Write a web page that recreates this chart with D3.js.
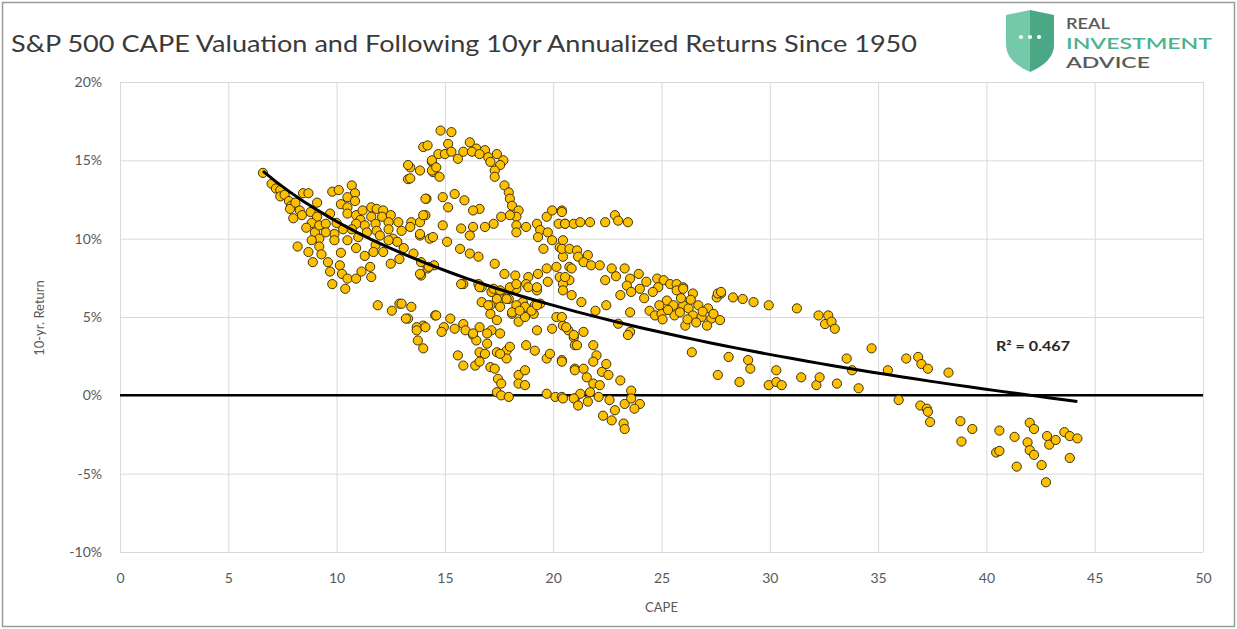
<!DOCTYPE html>
<html>
<head>
<meta charset="utf-8">
<script src="https://cdn.jsdelivr.net/npm/d3@7"></script>
<style>
  body { margin: 0; background: #fff; }
  svg text { font-family: Lato, "Open Sans", sans-serif; }
</style>
</head>
<body>
<div id="chart"></div>
<script>
// CAPE vs following 10yr annualized return (%)
// grouped by CAPE range so it is easier to check against the picture
const lowCape = [
  [6.6,14.2],[7.0,13.5],[7.2,13.2],[7.4,13.1],[7.4,12.7],[7.6,12.8],[7.8,12.4],[7.9,12.1],[7.85,11.9],
  [8.1,12.3],[8.3,11.8],[8.45,12.9],[8.7,12.9],[8.4,11.5],[8.0,11.3],[8.8,11.7],[9.1,12.3],[9.1,11.4],
  [8.85,11.0],[8.6,10.7],[9.0,10.4],[9.2,10.85],[9.5,10.95],[9.7,11.6],[9.8,13.0],[10.1,13.1],[10.7,13.4],
  [10.85,12.9],[10.5,12.65],[10.85,12.4],[10.2,12.2],[10.5,12.0],[10.5,11.6],[10.9,11.5],[10.0,11.0],
  [10.3,10.6],[11.1,11.2],[11.2,11.8],[11.6,12.0],[11.85,11.9],[12.15,11.8],[11.6,11.4],[12.1,11.4],
  [12.5,11.5],[12.4,11.05],[11.8,10.95],[11.3,10.85],[10.9,10.95],[10.7,10.6],[11.85,10.5],[11.4,10.4],
  [11.0,10.1],[12.0,10.2],[12.6,10.0],[10.5,9.9],[9.9,10.3],[9.9,9.9],[9.5,10.4],[9.2,10.0],[8.85,9.9],
  [8.2,9.5],[8.7,9.15],[8.9,8.5],[9.2,9.5],[9.3,9.0],[9.6,8.5],[9.7,7.9],[10.15,8.3],[10.25,7.75],
  [10.2,9.1],[10.9,9.4],[11.8,9.6],[13.1,9.4],[10.5,7.45],[9.8,7.1],[10.4,6.8],[10.9,7.45],[11.15,7.9],
  [11.6,7.55],[11.55,8.2],[11.3,8.9],[11.7,9.15],[12.15,9.15],[12.5,8.4],[12.9,8.7],[12.8,9.8],
  [12.4,10.6],[12.4,9.9],[12.85,11.05],[13.0,10.5],[13.45,11.05],[13.85,11.05],[14.1,11.5],[13.4,10.75],
  [13.85,10.2],[14.3,10.0],[13.55,9.05],[13.9,8.5],[13.9,7.65],[14.2,8.1],[14.5,8.3],[14.15,12.55],
  [13.3,13.8],[13.4,14.55],[13.85,14.35],[14.4,14.9],[14.45,14.25],[11.9,5.75],[12.55,5.4],[12.9,5.85],
  [13.45,5.65],[13.3,4.9],[14.0,4.45],[13.7,4.35],[14.55,5.1]
];

const midCape = [
  [14.8,16.9],[15.3,16.8],[14.0,15.85],[14.2,15.95],[15.15,16.05],[16.15,16.15],[16.45,15.75],[16.85,15.65],
  [17.4,15.4],[17.7,15.0],[14.7,15.4],[14.4,15.0],[15.0,15.4],[15.6,15.1],[15.3,15.55],[15.85,15.55],
  [16.25,15.55],[16.6,15.4],[17.0,15.2],[17.1,14.9],[17.55,14.7],[17.3,14.35],[13.3,14.7],[13.4,13.85],
  [14.4,14.35],[14.75,13.95],[14.6,14.55],[17.3,13.95],[17.75,13.4],[17.95,12.95],[18.0,12.55],
  [18.1,12.1],[18.4,11.8],[18.3,11.4],[18.0,11.5],[17.6,11.4],[17.25,10.95],[16.85,10.75],[16.3,10.75],
  [16.15,10.2],[15.75,10.65],[18.3,10.85],[18.3,10.4],[18.75,10.75],[16.6,11.9],[16.3,11.8],[15.9,12.45],
  [15.45,12.85],[14.9,12.65],[15.15,12.0],[14.1,12.55],[14.9,10.85],[14.0,11.5],[13.85,10.3],[14.45,10.1],
  [15.1,9.8],[15.7,9.35],[16.15,9.05],[16.55,8.85],[17.3,8.4],[17.75,7.75],[18.25,7.65],[18.85,7.55],
  [19.3,7.75],[19.7,8.1],[19.25,10.95],[19.7,11.4],[19.95,11.8],[20.4,11.8],[19.4,10.55],[19.75,10.4],
  [20.25,10.95],[20.55,10.95],[19.3,10.1],[19.95,9.9],[20.3,9.45],[19.55,9.35],[20.45,8.85],[20.15,8.2],
  [20.75,8.2],[20.3,7.55],[20.75,7.35],[15.85,7.1],[16.7,6.9],[16.7,5.95],[17.25,6.6],[17.85,6.25],
  [18.3,6.8],[18.75,7.1],[19.25,6.7],[19.4,5.85],[18.6,5.95],[13.85,7.75],[14.25,8.2],
  [13.0,5.85],[13.2,4.9],[13.7,4.15],[14.1,4.35],[13.75,3.5],[14.0,3.0],[14.6,5.1],[14.95,4.35],
  [15.25,4.9],[14.85,4.05],[15.45,4.25],[15.85,4.55],[15.95,4.15],[16.3,3.85],[16.6,4.35],[16.45,3.5],
  [15.6,2.55],[15.85,1.9],[16.4,1.9],[16.6,2.75],[16.6,2.15],[16.95,3.3],[17.15,4.15],[17.55,3.95],
  [16.85,2.65],[17.4,2.75],[17.85,2.85],[17.85,2.35],[17.1,1.8],[17.3,1.7],[17.45,1.05],[17.6,0.75],
  [17.4,0.2],[17.6,0.0],[17.95,-0.1],[18.4,1.3],[18.7,1.6],[18.4,0.75],[18.7,0.65],[18.75,3.2],
  [19.15,2.85],[19.7,2.35],[20.4,2.25],[19.85,2.65],[19.7,0.1],[20.1,-0.1],[20.4,-0.1],[21.0,-0.2],
  [21.0,1.7],[17.55,6.15],[17.95,6.15],[17.1,5.75],[17.1,5.2],[17.4,4.8],[18.1,5.2],[18.3,5.75],
  [18.7,5.65],[18.4,4.7],[18.7,5.0],[19.15,5.75],[19.25,4.15],[19.1,5.2],[20.15,5.0],[19.95,4.25],
  [20.45,4.45],[20.7,4.15],[20.95,3.7],[21.0,3.2],[16.55,7.1],[17.15,6.6],[15.75,7.1],[16.6,6.9],
  [17.25,6.8],[17.55,6.7],[18.0,6.9],[18.3,7.1],[18.85,6.9],[19.25,6.9],[19.75,7.25],[20.45,7.1],
  [20.85,6.4],[17.0,5.75],[17.4,6.15],[17.55,5.65],[17.85,6.15],[18.1,5.3],[18.45,5.4],[19.0,5.4],
  [19.25,5.75],[16.3,3.95],[16.95,3.95],[18.0,3.1],[17.55,2.65]
];

const upperCape = [
  [20.4,11.7],[20.55,10.95],[20.95,10.95],[21.25,11.05],[21.7,11.05],[22.4,11.05],[22.85,11.5],[23.0,11.15],
  [23.45,11.05],[20.45,9.9],[20.4,9.35],[20.75,9.35],[21.1,9.25],[21.15,8.85],[21.6,8.95],[21.4,8.5],
  [21.75,8.3],[22.15,8.3],[22.7,8.1],[23.3,8.1],[23.55,7.45],[23.95,7.75],[24.3,7.25],[24.8,7.45],
  [25.1,7.35],[25.4,7.1],[25.7,7.1],[26.0,6.9],[26.45,6.5],[20.85,8.1],[20.55,7.55],[20.45,6.7],
  [21.3,5.95],[22.4,7.35],[22.9,7.6],[23.4,7.0],[23.6,6.6],[24.0,6.8],[24.85,6.9],[23.1,6.4],[24.6,6.6],
  [24.2,6.2],[21.95,5.4],[22.45,5.75],[23.55,5.3],[23.0,4.57],[23.55,4.05],[23.45,3.85],[24.45,5.4],
  [24.7,5.1],[25.0,5.2],[25.25,6.05],[25.55,5.75],[25.7,6.7],[26.0,6.8],[25.6,5.1],[26.0,5.75],
  [26.25,5.55],[26.1,4.45],[26.45,5.1],[26.7,5.75],[26.85,5.0],[27.15,5.55],[27.3,4.9],[27.1,4.45],
  [27.7,4.8],[27.55,6.25],[27.75,6.5],[28.3,6.25],[24.9,5.75],[25.3,5.45],[25.85,5.3],[26.2,4.85],
  [26.6,4.65],[26.9,5.35],[27.4,5.2],[25.05,4.85],[25.9,6.2],[26.35,6.1],[26.4,2.75],
  [20.4,5.0],[20.6,4.35],[20.95,3.85],[21.1,3.2],[21.4,4.05],[21.85,3.2],[22.0,2.55],[20.4,2.15],
  [21.0,1.6],[21.4,1.7],[21.85,2.15],[22.25,1.5],[22.55,1.3],[22.45,2.0],[23.1,0.95],[21.55,1.15],
  [21.85,0.75],[22.15,0.65],[21.7,0.2],[21.25,0.1],[20.95,-0.2],[20.45,-0.2],[21.15,-0.65],[21.6,-0.4],
  [22.1,-0.1],[22.6,-0.3],[22.85,-0.95],[22.3,-1.3],[22.7,-1.6],[23.3,-0.55],[23.6,0.3],[23.6,-0.2],
  [24.0,-0.55],[23.75,-0.85],[23.25,-1.8],[23.3,-2.15]
];

const highCape = [
  [27.6,6.5],[27.75,6.6],[28.75,6.15],[29.25,5.95],[29.95,5.75],[31.25,5.55],[32.25,5.1],[32.7,5.1],
  [32.55,4.55],[32.85,4.7],[33.0,4.25],[28.1,2.45],[29.0,2.25],[29.1,1.7],[27.6,1.3],[28.6,0.85],
  [29.95,0.65],[30.3,1.6],[30.3,0.85],[30.55,0.65],[31.45,1.15],[32.15,0.65],[32.3,1.15],[33.1,0.75],
  [33.55,2.35],[33.8,1.6],[34.1,0.45],[34.7,3.0],[35.45,1.6],[35.95,-0.3],[36.3,2.35],[36.85,2.45],
  [37.0,2.0],[37.3,1.7],[36.95,-0.65],[37.25,-0.85],[38.25,1.45],[37.3,-1.05],[37.4,-1.7],[38.8,-1.65],
  [39.35,-2.15],[38.85,-2.95],[40.6,-2.25],[41.3,-2.65],[40.45,-3.65],[40.6,-3.55],[41.4,-4.55],
  [42.0,-1.75],[42.2,-2.15],[41.9,-3.0],[42.0,-3.5],[42.2,-3.8],[42.55,-4.45],[42.75,-5.55],[42.8,-2.6],
  [42.9,-3.15],[43.2,-2.85],[43.6,-2.35],[43.85,-2.6],[44.2,-2.75],[43.85,-4.0]
];

const xTicks = [0, 5, 10, 15, 20, 25, 30, 35, 40, 45, 50];
const yTicks = [-10, -5, 0, 5, 10, 15, 20];
const titleText = "S&P 500 CAPE Valuation and Following 10yr Annualized Returns Since 1950";
// Excel logarithmic trendline as shown on the chart: y = slope*ln(x) + intercept
const trendSlope = -7.73;
const trendIntercept = 28.9;
const r2Label = "R\u00B2 = 0.467";

const allPoints = lowCape.concat(midCape, upperCape, highCape);

var W = 1237, H = 629;
var plot = {left: 120, right: 1203, top: 82, bottom: 552};

var svg = d3.select("#chart").append("svg")
    .attr("width", W)
    .attr("height", H);

svg.append("rect")
    .attr("x", 2.5).attr("y", 2.5)
    .attr("width", W - 5).attr("height", H - 5)
    .attr("fill", "#fff")
    .attr("stroke", "#9a9a9a")
    .attr("stroke-width", 1.5);

var x = d3.scaleLinear().domain([0, 50]).range([plot.left, plot.right]);
var y = d3.scaleLinear().domain([-10, 20]).range([plot.bottom, plot.top]);

// title
svg.append("text")
    .attr("x", 11).attr("y", 52)
    .attr("font-size", 24)
    .attr("fill", "#3a3a3a")
    .attr("textLength", 906)
    .attr("lengthAdjust", "spacingAndGlyphs")
    .text(titleText);

// logo
var logo = svg.append("g").attr("id", "logo");
logo.append("path")
    .attr("d", "M1030,10 L1006,15 L1006,46 Q1007,62 1030,72 Z")
    .attr("fill", "#74c9aa");
logo.append("path")
    .attr("d", "M1030,10 L1054,15 L1054,46 Q1053,62 1030,72 Z")
    .attr("fill", "#4aa886");
[1021, 1030, 1039].forEach(function(cx){
  logo.append("circle").attr("cx", cx).attr("cy", 37).attr("r", 2.1).attr("fill", "#fff");
});
var logoText = [
  {t: "REAL", y: 29, c: "#5a5a5a", w: 44},
  {t: "INVESTMENT", y: 48.5, c: "#4db28d", w: 146},
  {t: "ADVICE", y: 68, c: "#5a5a5a", w: 84}
];
logoText.forEach(function(d){
  logo.append("text")
      .attr("x", 1066).attr("y", d.y)
      .attr("font-size", 16)
      .attr("font-weight", 600)
      .attr("fill", d.c)
      .attr("textLength", d.w)
      .attr("lengthAdjust", "spacingAndGlyphs")
      .text(d.t);
});

// axes + gridlines
var yAxis = d3.axisLeft(y)
    .tickValues(yTicks)
    .tickSize(-(plot.right - plot.left))
    .tickPadding(18)
    .tickFormat(d => d + "%");
var gy = svg.append("g")
    .attr("transform", `translate(${plot.left},0)`)
    .call(yAxis);

var xAxis = d3.axisBottom(x)
    .tickValues(xTicks)
    .tickSize(-(plot.bottom - plot.top))
    .tickPadding(21);
var gx = svg.append("g")
    .attr("transform", `translate(0,${plot.bottom})`)
    .call(xAxis);

[gx, gy].forEach(function(g){
  g.select(".domain").remove();
  g.selectAll(".tick line").attr("stroke", "#d9d9d9").attr("stroke-width", 1);
  g.selectAll(".tick text")
      .attr("fill", "#595959")
      .attr("font-size", 14)
      .attr("font-family", "Lato, 'Open Sans', sans-serif");
});

// zero line
svg.append("line")
    .attr("x1", plot.left).attr("x2", plot.right)
    .attr("y1", y(0)).attr("y2", y(0))
    .attr("stroke", "#000")
    .attr("stroke-width", 2.5);

// axis titles
svg.append("text")
    .attr("transform", "translate(44,318) rotate(-90)")
    .attr("text-anchor", "middle")
    .attr("font-size", 13)
    .attr("fill", "#595959")
    .text("10-yr. Return");

svg.append("text")
    .attr("x", (plot.left + plot.right) / 2)
    .attr("y", 612)
    .attr("text-anchor", "middle")
    .attr("font-size", 13)
    .attr("fill", "#595959")
    .text("CAPE");

// points
svg.append("g").selectAll("circle")
    .data(allPoints)
    .join("circle")
    .attr("cx", d => x(d[0]))
    .attr("cy", d => y(d[1]))
    .attr("r", 4.6)
    .attr("fill", "#ffc000")
    .attr("stroke", "#3a3210")
    .attr("stroke-width", 1);

// trendline across the range of the data
var ext = d3.extent(allPoints, d => d[0]);
var trend = d3.range(0, 61).map(i => {
  var c = ext[0] + (ext[1] - ext[0]) * i / 60;
  return [c, trendIntercept + trendSlope * Math.log(c)];
});
svg.append("path")
    .datum(trend)
    .attr("fill", "none")
    .attr("stroke", "#000")
    .attr("stroke-width", 3)
    .attr("d", d3.line().x(d => x(d[0])).y(d => y(d[1])));

svg.append("text")
    .attr("x", 996).attr("y", 351)
    .attr("font-size", 14)
    .attr("font-weight", 700)
    .attr("fill", "#262626")
    .attr("textLength", 74)
    .attr("lengthAdjust", "spacingAndGlyphs")
    .text(r2Label);
</script>
</body>
</html>
